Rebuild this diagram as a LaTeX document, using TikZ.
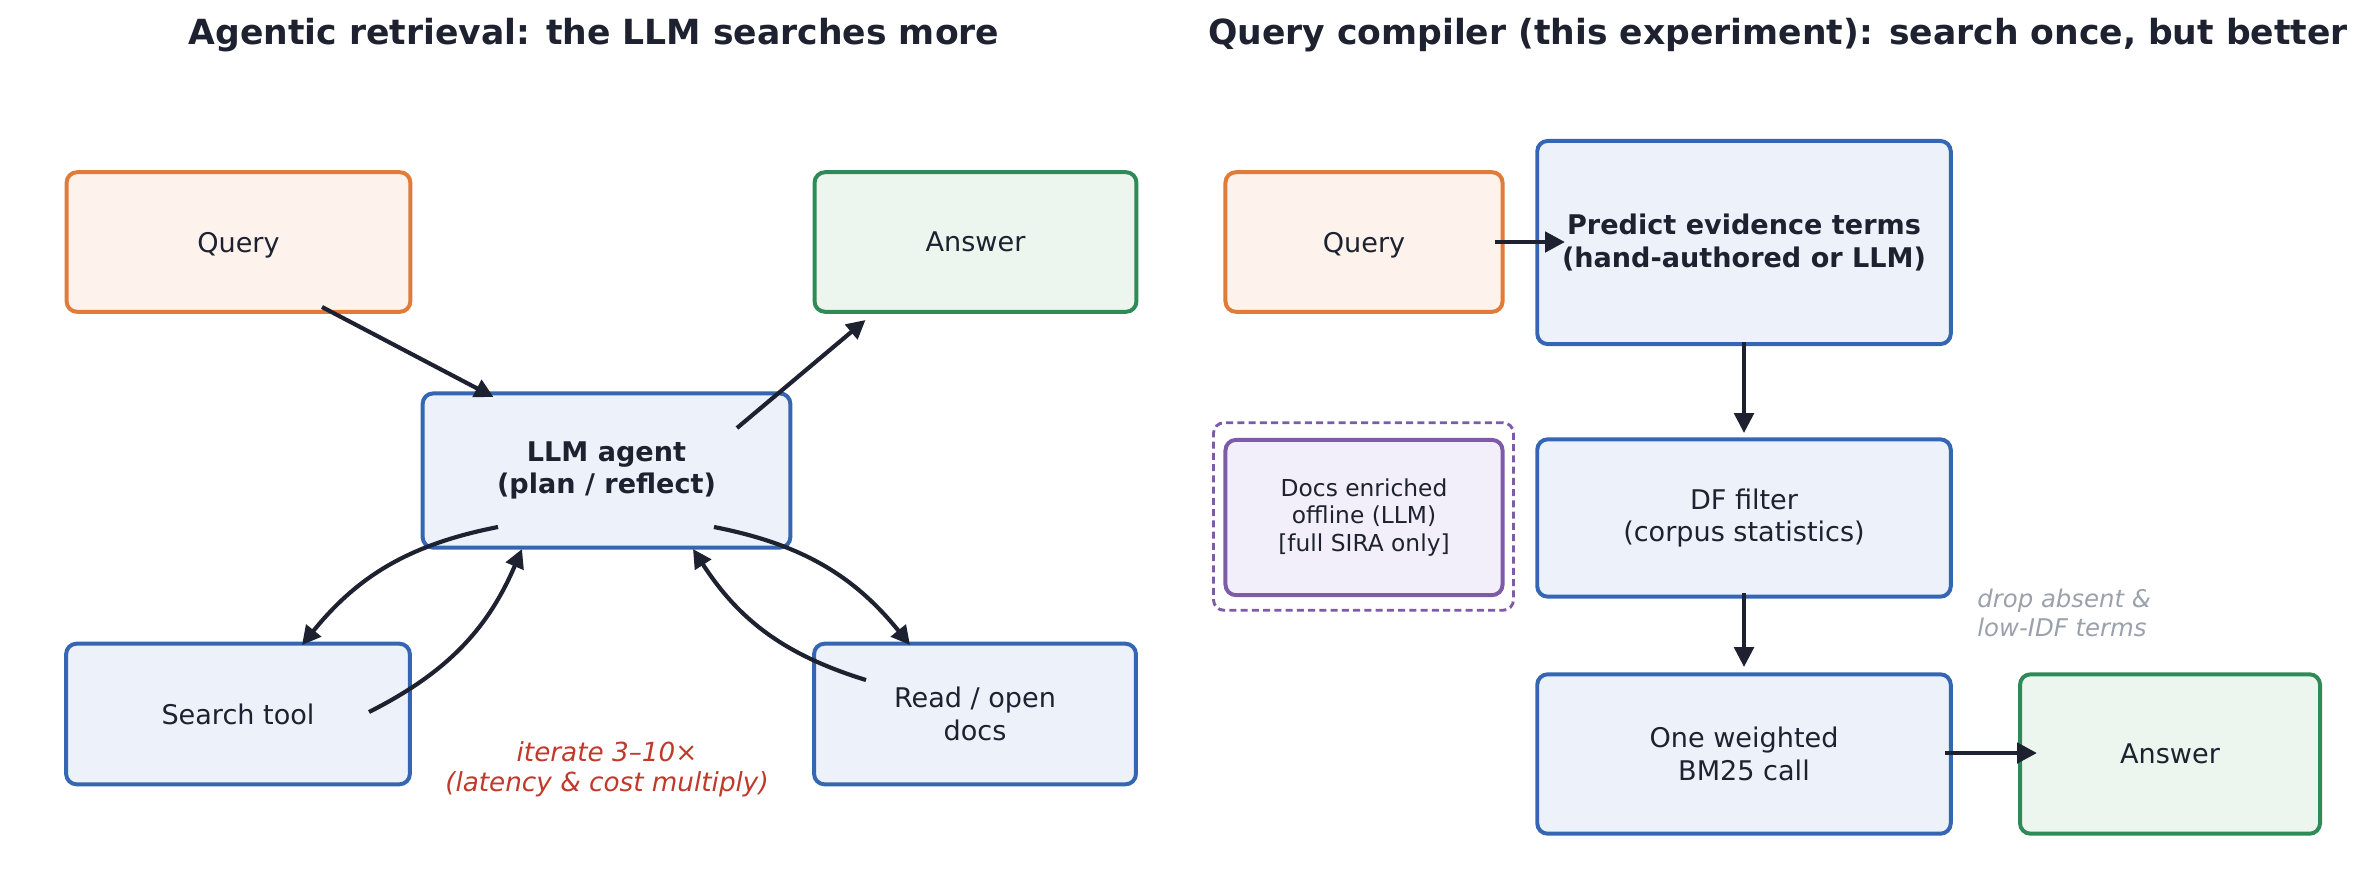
\documentclass[tikz,border=0pt]{standalone}
\usepackage{fontspec}
\setmainfont{DejaVu Sans}
\usetikzlibrary{arrows.meta,calc}
\definecolor{ink}{HTML}{1E2230}
\definecolor{orng}{HTML}{E07B39}
\definecolor{orngfill}{HTML}{FDF2EC}
\definecolor{grn}{HTML}{2E8B57}
\definecolor{grnfill}{HTML}{ECF6EE}
\definecolor{blu}{HTML}{3566B3}
\definecolor{blufill}{HTML}{EDF1F9}
\definecolor{purp}{HTML}{7D5BA6}
\definecolor{purpfill}{HTML}{F3EFFA}
\definecolor{redtxt}{HTML}{C0392B}
\definecolor{graytxt}{HTML}{9AA1AC}
\tikzset{
  basebox/.style={draw, rounded corners=5pt, line width=1.9pt, inner sep=0pt, outer sep=0pt,
    align=center, text=ink, font=\fontsize{13}{15.6}\selectfont},
  orangebox/.style={basebox, draw=orng, fill=orngfill},
  greenbox/.style={basebox, draw=grn, fill=grnfill},
  bluebox/.style={basebox, draw=blu, fill=blufill},
  purplebox/.style={basebox, draw=purp, fill=purpfill, font=\fontsize{11.2}{13.4}\selectfont},
  dashbox/.style={draw=purp, rounded corners=5pt, line width=1.4pt, dash pattern=on 3.4pt off 2pt, inner sep=0pt},
  titletxt/.style={text=ink, font=\bfseries\fontsize{16.6}{20}\selectfont},
  arrL/.style={draw=ink, line width=2pt, -{Triangle[length=9pt,width=9pt]}},
  arrV/.style={draw=ink, line width=1.9pt, -{Triangle[length=9.6pt,width=9.4pt]}},
  arrH/.style={draw=ink, line width=2.3pt, -{Triangle[length=9.6pt,width=9.6pt]}},
}
\begin{document}
\begin{tikzpicture}[x=0.48pt,y=-0.48pt]
\useasboundingbox (0,0) rectangle (2373,892);
% titles
\node[titletxt] (t1) at (594,35) {Agentic retrieval: the LLM searches more};
\node[titletxt] (t2) at (1778,35) {Query compiler (this experiment): search once, but better};
% left panel
\node[orangebox, minimum width=165pt, minimum height=67pt, text depth=0pt] (qL) at (238.5,242) {Query};
\node[greenbox, minimum width=154.5pt, minimum height=67pt] (aL) at (975.5,242) {Answer};
\node[bluebox, minimum width=176.5pt, minimum height=74pt, font=\bfseries\fontsize{13}{15.6}\selectfont] (llm) at (606.5,470.5) {LLM agent\\(plan / reflect)};
\node[bluebox, minimum width=165pt, minimum height=67.5pt] (search) at (238,714) {Search tool};
\node[bluebox, minimum width=154.5pt, minimum height=67.5pt] (read) at (975,714) {Read / open\\docs};
\node[text=redtxt, align=center, font=\itshape\fontsize{12.6}{14.6}\selectfont] (iter) at (607,769) {iterate 3–10×\\(latency \& cost multiply)};
% left arrows
\draw[arrL] ([shift={(83.5,65)}]qL.center) -- ([shift={(-113,-73.5)}]llm.center);
\draw[arrL] ([shift={(130.5,-42.5)}]llm.center) -- ([shift={(-110,78)}]aL.center);
\draw[arrL] ([shift={(-108.5,56.5)}]llm.center) to[bend right=20] ([shift={(64,-69)}]search.center);
\draw[arrL] ([shift={(131,-2)}]search.center) to[bend right=20] ([shift={(-84.5,78.5)}]llm.center);
\draw[arrL] ([shift={(107.5,56.5)}]llm.center) to[bend left=20] ([shift={(-65,-69)}]read.center);
\draw[arrL] ([shift={(-109,-34)}]read.center) to[bend left=20] ([shift={(86.5,78.5)}]llm.center);
% right panel
\node[dashbox, minimum width=144pt, minimum height=90pt] (dash) at (1363.5,516.5) {};
\node[orangebox, minimum width=133pt, minimum height=67pt, text depth=0pt] (qR) at (1364,242) {Query};
\node[bluebox, minimum width=198.5pt, minimum height=97.5pt, font=\bfseries\fontsize{13}{15.6}\selectfont] (pred) at (1744,242.5) {Predict evidence terms\\(hand-authored or LLM)};
\node[purplebox, minimum width=133pt, minimum height=74.5pt] (docs) at (1364,517.5) {Docs enriched\\offline (LLM)\\{[full SIRA only]}};
\node[bluebox, minimum width=198.5pt, minimum height=75.5pt] (df) at (1744,518) {DF filter\\(corpus statistics)};
\node[bluebox, minimum width=198.5pt, minimum height=76.5pt] (bm) at (1744,754) {One weighted\\BM25 call};
\node[greenbox, minimum width=144pt, minimum height=76.5pt] (aR) at (2170,754) {Answer};
\node[text=graytxt, align=left, anchor=west, font=\itshape\fontsize{11.7}{13.6}\selectfont] (drop) at (1970,613) {drop absent \&\\low-IDF terms};
% right arrows
\draw[arrH] ([shift={(131,0)}]qR.center) -- ([shift={(-179,-0.5)}]pred.center);
\draw[arrV] ([shift={(0,99.5)}]pred.center) -- ([shift={(0,-85)}]df.center);
\draw[arrV] ([shift={(0,75)}]df.center) -- ([shift={(0,-87)}]bm.center);
\draw[arrH] ([shift={(201,-1)}]bm.center) -- ([shift={(-133,-1)}]aR.center);
\end{tikzpicture}
\end{document}
